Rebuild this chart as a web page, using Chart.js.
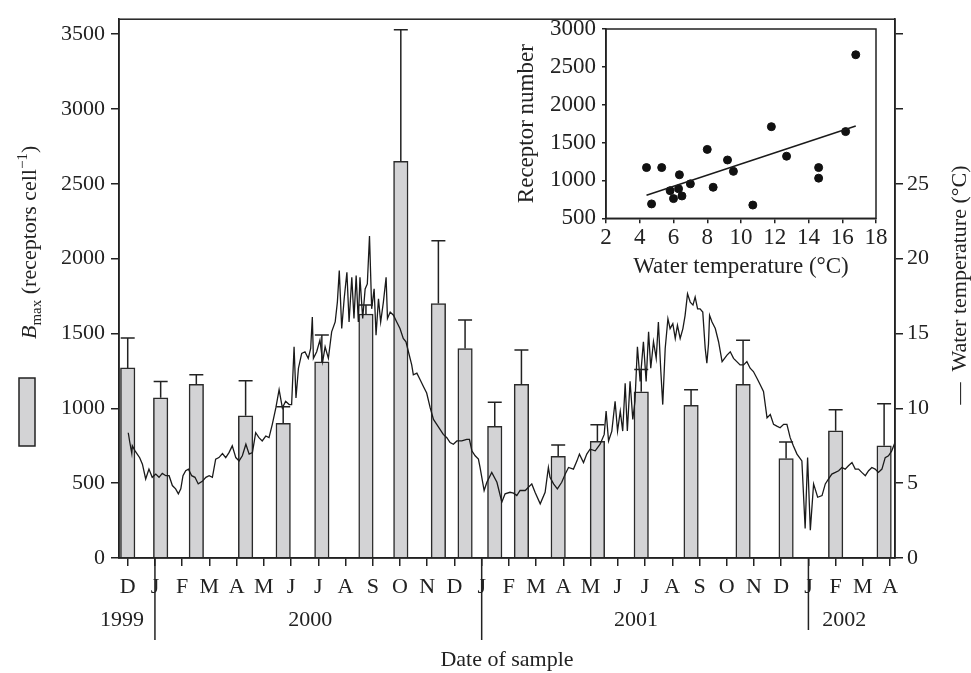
<!DOCTYPE html>
<html>
<head>
<meta charset="utf-8">
<script src="https://cdn.jsdelivr.net/npm/chart.js@4.4.0/dist/chart.umd.min.js"></script>
<style>
  html, body { margin: 0; padding: 0; background: #fff; }
  #wrap { position: relative; width: 971px; height: 673px; }
  #main { position: absolute; left: 0; top: 0; }
  #inset { position: absolute; left: 480px; top: 0; }
</style>
</head>
<body>
<div id="wrap">
  <canvas id="main" width="971" height="673"></canvas>
  <canvas id="inset" width="420" height="300"></canvas>
</div>
<script>
// month index: 0 = Dec 1999 ... 28 = Apr 2002
const monthLabels = ["D","J","F","M","A","M","J","J","A","S","O","N","D","J","F","M","A","M","J","J","A","S","O","N","D","J","F","M","A"];
const yearLabels = ["1999", "2000", "2001", "2002"];
const yearCentres = [-0.21, 6.70, 18.67, 26.32];
const yearBreaks = [1, 13, 25];
const bmaxTicks = [0, 500, 1000, 1500, 2000, 2500, 3000, 3500];
const tempTicks = [0, 5, 10, 15, 20, 25, 30, 35];

// Bmax samples
const sampleMonth = [0.0, 1.21, 2.52, 4.33, 5.71, 7.13, 8.75, 10.03, 11.41, 12.39, 13.48, 14.46, 15.81, 17.25, 18.86, 20.69, 22.60, 24.18, 26.00, 27.78];
const bmax = [1270, 1070, 1160, 950, 900, 1310, 1630, 2650, 1700, 1400, 880, 1160, 680, 780, 1110, 1020, 1160, 665, 850, 750];
const bmaxErr = [200, 110, 65, 235, 110, 180, 60, 880, 420, 190, 160, 230, 75, 110, 150, 105, 295, 110, 140, 280];

// water temperature trace
const tempMonth = [
  0.02,0.07,0.15,0.17,0.27,0.44,0.54,0.66,0.78,0.90,
  1.03,1.15,1.27,1.40,1.52,1.64,1.76,1.86,1.95,2.03,
  2.13,2.23,2.35,2.47,2.59,2.74,2.87,2.99,3.11,3.23,
  3.35,3.48,3.60,3.72,3.84,3.97,4.09,4.21,4.34,4.46,
  4.58,4.70,4.82,4.94,5.07,5.19,5.31,5.44,5.56,5.68,
  5.80,5.93,6.02,6.11,6.18,6.27,6.39,6.51,6.63,6.72,
  6.78,6.82,6.94,7.06,7.16,7.25,7.37,7.49,7.62,7.70,
  7.77,7.86,7.95,8.05,8.13,8.23,8.31,8.39,8.47,8.53,
  8.63,8.72,8.80,8.88,8.96,9.05,9.12,9.21,9.29,9.39,
  9.49,9.54,9.64,9.76,9.88,10.00,10.12,10.22,10.31,10.43,
  10.49,10.62,10.74,10.86,10.98,11.11,11.23,11.35,11.47,11.59,
  11.72,11.84,11.96,12.09,12.27,12.45,12.55,12.64,12.76,12.88,
  12.94,13.09,13.19,13.37,13.56,13.74,13.86,14.04,14.17,14.29,
  14.41,14.60,14.84,14.96,15.15,15.33,15.45,15.51,15.64,15.78,
  15.94,16.07,16.19,16.37,16.50,16.59,16.74,16.86,16.98,17.17,
  17.35,17.50,17.57,17.66,17.78,17.90,17.99,18.09,18.18,18.27,
  18.35,18.45,18.55,18.63,18.72,18.82,18.94,19.04,19.13,19.21,
  19.31,19.41,19.49,19.58,19.65,19.74,19.84,19.92,20.02,20.11,
  20.19,20.29,20.39,20.47,20.56,20.66,20.76,20.84,20.93,21.02,
  21.12,21.21,21.27,21.33,21.37,21.46,21.58,21.70,21.83,22.01,
  22.13,22.25,22.37,22.49,22.62,22.74,22.86,22.98,23.11,23.23,
  23.35,23.48,23.60,23.72,23.84,23.96,24.09,24.21,24.33,24.45,
  24.58,24.76,24.88,24.97,25.07,25.19,25.34,25.50,25.62,25.74,
  25.86,25.99,26.11,26.23,26.35,26.47,26.60,26.72,26.84,26.96,
  27.09,27.21,27.33,27.45,27.57,27.70,27.82,27.94,28.06,28.18
];
const tempC = [
  8.37,7.8,6.98,7.5,7.16,6.7,6.27,5.28,5.94,5.39,
  5.61,5.39,5.65,5.5,5.5,4.84,4.62,4.29,4.62,5.5,
  5.83,5.94,5.5,5.39,4.95,5.12,5.39,5.5,5.39,6.6,
  6.71,6.98,6.71,7.04,7.49,6.71,6.49,6.83,7.6,6.94,
  7.04,8.37,8.04,7.82,8.15,8.04,8.93,10.03,11.25,10.03,
  10.47,10.25,10.25,14.11,10.69,12.68,13.67,13.78,13.34,14.0,
  16.1,13.34,13.78,14.56,13.12,14.11,13.34,15.11,15.77,17.1,
  19.2,15.33,17.32,19.09,15.77,18.75,16.0,18.87,15.77,18.75,
  16.0,17.98,18.31,21.52,16.65,17.98,14.89,17.32,15.77,17.1,
  18.75,16.0,16.43,16.22,15.77,15.33,14.67,14.45,13.78,12.9,
  12.24,12.35,11.91,11.46,11.02,10.03,9.26,8.93,8.6,8.26,
  8.04,7.71,7.6,7.82,7.82,7.93,7.93,7.16,6.83,6.61,
  6.05,4.51,5.06,5.72,5.06,3.73,4.29,4.39,4.33,4.17,
  4.51,4.51,4.95,4.39,3.62,4.39,6.05,5.39,4.95,4.62,
  5.06,5.61,6.05,5.94,6.49,6.94,6.38,6.94,7.27,7.16,
  7.6,8.26,9.81,7.82,8.48,10.47,8.48,9.81,8.48,11.68,
  8.48,11.8,9.26,10.47,14.11,11.8,14.45,11.8,15.11,12.68,
  14.45,13.34,15.77,12.46,10.25,14.0,15.99,15.33,15.66,14.67,
  15.55,14.67,15.33,16.2,17.65,17.1,16.9,17.43,16.65,16.65,
  16.43,14.0,13.01,14.3,16.22,15.77,15.33,14.45,13.12,13.56,
  13.78,13.34,13.12,12.9,12.9,13.12,12.68,12.46,12.01,11.58,
  11.13,9.36,9.59,8.93,8.81,8.7,8.93,8.93,8.04,7.49,
  6.94,6.49,1.97,6.71,1.86,4.95,4.06,4.17,4.95,5.28,
  5.61,5.72,5.83,6.05,5.94,6.16,6.38,5.94,5.94,5.72,
  5.5,5.83,6.05,5.94,5.72,5.94,6.71,6.83,7.16,7.71
];

// inset: receptor number vs water temperature
const insetTemp = [4.4, 4.7, 5.3, 5.8, 6.0, 6.3, 6.35, 6.5, 7.0, 8.0, 8.35, 9.2, 9.55, 10.7, 11.8, 12.7, 14.6, 14.6, 16.2, 16.8];
const insetReceptors = [1170, 690, 1170, 865, 760, 890, 1075, 795, 955, 1410, 910, 1270, 1120, 675, 1710, 1320, 1170, 1030, 1645, 2660];
const fitTemp = [4.4, 16.8];
const fitReceptors = [805, 1720];

Chart.defaults.font.family = '"Liberation Serif", "Times New Roman", serif';
Chart.defaults.font.size = 22;
Chart.defaults.color = "#222";

const ink = "#222";

const frame = {
  id: "frame",
  afterDraw(chart) {
    const { ctx, chartArea: a } = chart;
    ctx.save();
    ctx.strokeStyle = ink;
    ctx.lineWidth = 1.5;
    ctx.strokeRect(a.left, a.top, a.right - a.left, a.bottom - a.top);
    ctx.restore();
  }
};

const errorBars = {
  id: "errorBars",
  afterDatasetsDraw(chart) {
    const { ctx, scales: { x, y } } = chart;
    ctx.save();
    ctx.strokeStyle = ink;
    ctx.lineWidth = 1.5;
    sampleMonth.forEach((m, i) => {
      const px = x.getPixelForValue(m);
      const y0 = y.getPixelForValue(bmax[i]);
      const y1 = y.getPixelForValue(bmax[i] + bmaxErr[i]);
      ctx.beginPath();
      ctx.moveTo(px, y0);
      ctx.lineTo(px, y1);
      ctx.moveTo(px - 7, y1);
      ctx.lineTo(px + 7, y1);
      ctx.stroke();
    });
    ctx.restore();
  }
};

const extras = {
  id: "extras",
  afterDraw(chart) {
    const { ctx, scales: { x }, chartArea: a } = chart;
    ctx.save();
    ctx.fillStyle = ink;
    ctx.strokeStyle = ink;

    // years and year separators
    ctx.font = '22px "Liberation Serif"';
    ctx.textAlign = "center";
    ctx.textBaseline = "middle";
    yearLabels.forEach((t, i) => ctx.fillText(t, x.getPixelForValue(yearCentres[i]), 620));
    ctx.lineWidth = 1.5;
    yearBreaks.forEach((m, i) => {
      const px = x.getPixelForValue(m);
      ctx.beginPath();
      ctx.moveTo(px, a.bottom);
      ctx.lineTo(px, i < 2 ? 640 : 630);
      ctx.stroke();
    });

    // left title: B_max (receptors cell^-1)
    ctx.save();
    ctx.translate(36, 339);
    ctx.rotate(-Math.PI / 2);
    ctx.textAlign = "left";
    ctx.textBaseline = "alphabetic";
    let cx = 0;
    const part = (txt, font, dy) => {
      ctx.font = font;
      ctx.fillText(txt, cx, dy);
      cx += ctx.measureText(txt).width;
    };
    part("B", 'italic 22px "Liberation Serif"', 0);
    part("max", '15px "Liberation Serif"', 5);
    part(" (receptors cell", '22px "Liberation Serif"', 0);
    part("\u22121", '15px "Liberation Serif"', -9);
    part(")", '22px "Liberation Serif"', 0);
    ctx.restore();

    // legend swatch for bars
    ctx.fillStyle = "#d3d3d5";
    ctx.fillRect(19, 378, 16, 68);
    ctx.lineWidth = 1.5;
    ctx.strokeRect(19, 378, 16, 68);

    // right title
    ctx.fillStyle = ink;
    ctx.save();
    ctx.translate(966, 285);
    ctx.rotate(-Math.PI / 2);
    ctx.font = '22px "Liberation Serif"';
    ctx.textAlign = "center";
    ctx.textBaseline = "alphabetic";
    ctx.fillText("\u2014  Water temperature (\u00b0C)", 0, 0);
    ctx.restore();

    ctx.restore();
  }
};

new Chart(document.getElementById("main"), {
  type: "bar",
  data: {
    datasets: [
      {
        type: "line",
        label: "Water temperature",
        data: tempMonth.map((m, i) => ({ x: m, y: tempC[i] })),
        yAxisID: "y2",
        borderColor: "#1a1a1a",
        borderWidth: 1.3,
        pointRadius: 0,
        tension: 0,
        order: 0
      },
      {
        type: "bar",
        label: "Bmax",
        data: sampleMonth.map((m, i) => ({ x: m, y: bmax[i] })),
        yAxisID: "y",
        backgroundColor: "#d3d3d5",
        borderColor: "#2a2a2a",
        borderWidth: 1.5,
        barThickness: 14.5,
        order: 1
      }
    ]
  },
  options: {
    responsive: false,
    animation: false,
    layout: { padding: { top: 15, left: 0, right: 0, bottom: 0 } },
    plugins: { legend: { display: false }, tooltip: { enabled: false } },
    scales: {
      x: {
        type: "linear",
        min: -0.32,
        max: 28.18,
        offset: false,
        grid: { offset: false, drawOnChartArea: false, tickLength: 8, color: ink, lineWidth: 1.5 },
        border: { color: ink, width: 1.5 },
        afterBuildTicks: s => { s.ticks = monthLabels.map((_, i) => ({ value: i })); },
        ticks: { autoSkip: false, maxRotation: 0, padding: 8, callback: v => monthLabels[v] },
        title: { display: true, text: "Date of sample", padding: { top: 0, bottom: 0 } },
        afterFit: s => { s.height = 115; }
      },
      y: {
        position: "left",
        min: 0,
        max: 3600,
        grid: { drawOnChartArea: false, tickLength: 8, color: ink, lineWidth: 1.5 },
        border: { color: ink, width: 1.5 },
        afterBuildTicks: s => { s.ticks = bmaxTicks.map(v => ({ value: v })); },
        ticks: { autoSkip: false, padding: 6, callback: v => String(v) },
        afterFit: s => { s.width = 119; }
      },
      y2: {
        position: "right",
        min: 0,
        max: 36,
        grid: { drawOnChartArea: false, tickLength: 8, color: ink, lineWidth: 1.5 },
        border: { color: ink, width: 1.5 },
        afterBuildTicks: s => { s.ticks = tempTicks.map(v => ({ value: v })); },
        ticks: { autoSkip: false, padding: 4, callback: v => (v <= 25 ? String(v) : "") },
        afterFit: s => { s.width = 76; }
      }
    }
  },
  plugins: [frame, errorBars, extras]
});

new Chart(document.getElementById("inset"), {
  type: "scatter",
  data: {
    datasets: [
      {
        type: "line",
        data: fitTemp.map((t, i) => ({ x: t, y: fitReceptors[i] })),
        borderColor: "#1a1a1a",
        borderWidth: 1.5,
        pointRadius: 0
      },
      {
        type: "scatter",
        data: insetTemp.map((t, i) => ({ x: t, y: insetReceptors[i] })),
        backgroundColor: "#111",
        borderColor: "#111",
        pointRadius: 4
      }
    ]
  },
  options: {
    responsive: false,
    animation: false,
    layout: { padding: { top: 29, right: 24, left: 0, bottom: 0 } },
    plugins: { legend: { display: false }, tooltip: { enabled: false } },
    scales: {
      x: {
        type: "linear",
        min: 2,
        max: 18,
        grid: { drawOnChartArea: false, tickLength: 5, color: ink, lineWidth: 1.5 },
        border: { color: ink, width: 1.5 },
        ticks: { stepSize: 2, padding: 1, maxRotation: 0, font: { size: 23 } },
        title: { display: true, text: "Water temperature (\u00b0C)", font: { size: 23 }, padding: { top: 0, bottom: 19 } },
        afterFit: s => { s.height = 81.7; }
      },
      y: {
        type: "linear",
        min: 500,
        max: 3000,
        grid: { drawOnChartArea: false, tickLength: 4, color: ink, lineWidth: 1.5 },
        border: { color: ink, width: 1.5 },
        ticks: { stepSize: 500, padding: 6, font: { size: 23 }, callback: v => String(v) },
        title: { display: true, text: "Receptor number", font: { size: 23 }, padding: { top: 33, bottom: 0 } },
        afterFit: s => { s.width = 126; }
      }
    }
  },
  plugins: [frame]
});
</script>
</body>
</html>
